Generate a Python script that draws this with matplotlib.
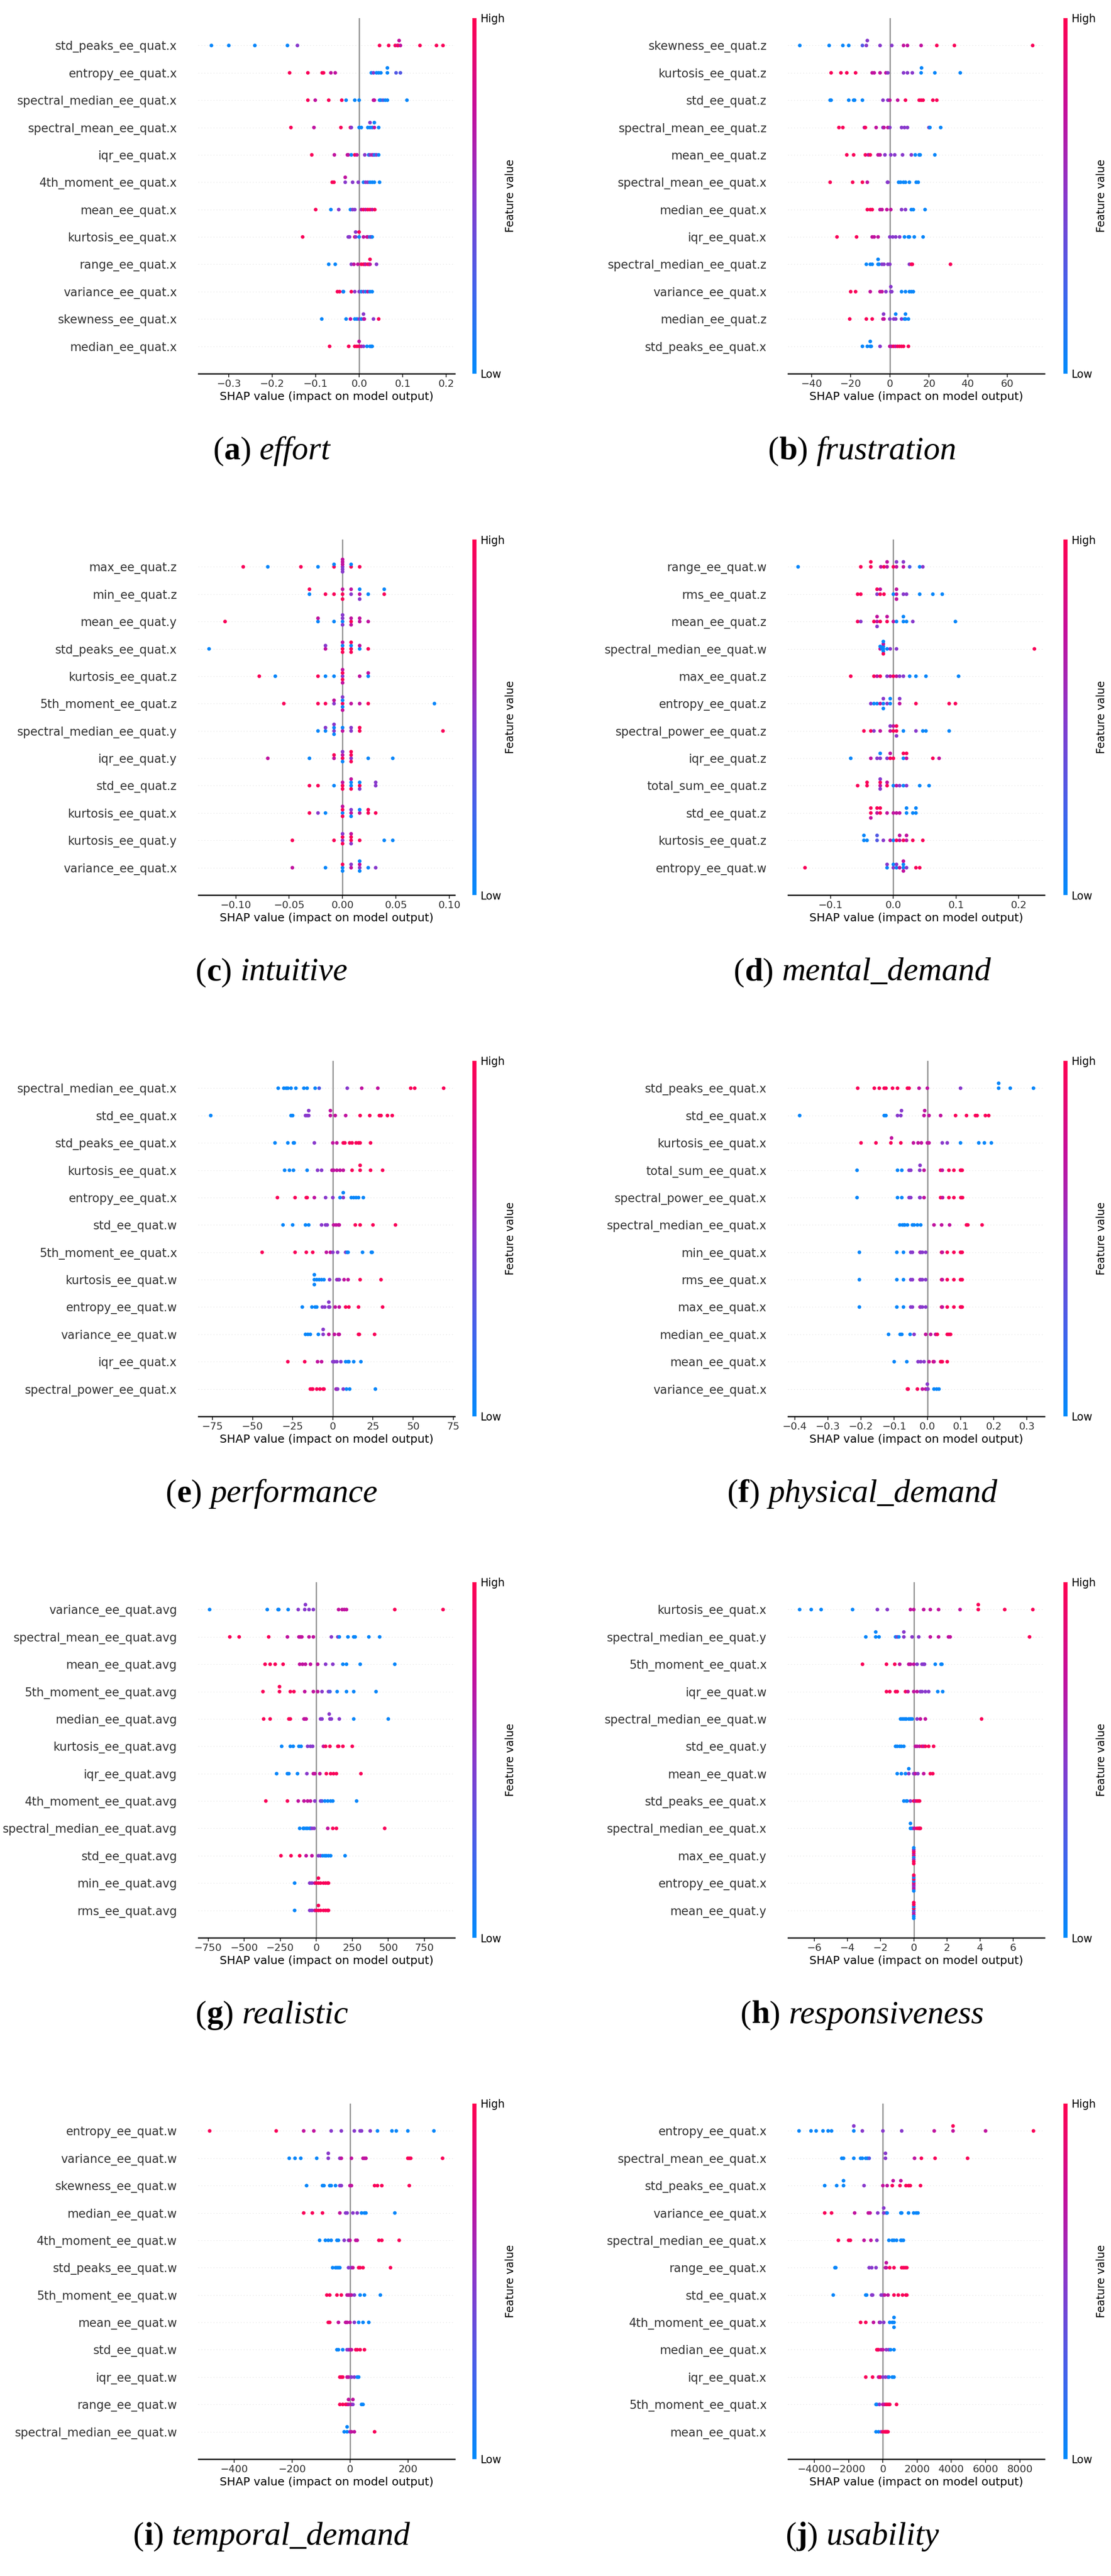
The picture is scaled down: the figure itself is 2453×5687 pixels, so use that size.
import numpy as np
import matplotlib
matplotlib.use("Agg")
import matplotlib.pyplot as plt
from matplotlib.colors import LinearSegmentedColormap, Normalize
from matplotlib.cm import ScalarMappable

# colour codes for feature value: b=low ... r=high
CODE = {"b": 0.03, "q": 0.3, "p": 0.5, "m": 0.72, "r": 0.97}

LETTERS = ["a", "b", "c", "d", "e", "f", "g", "h", "i", "j"]
TARGETS = ["effort", "frustration", "intuitive", "mental_demand", "performance",
           "physical_demand", "realistic", "responsiveness", "temporal_demand", "usability"]
XLIMS = [(-0.37, 0.22), (-52, 79), (-0.135, 0.105), (-0.168, 0.241), (-83.7, 75.9),
         (-0.42, 0.353), (-818, 961), (-7.6, 7.9), (-524, 362), (-5540, 9440)]
XTICKS = [[-0.3, -0.2, -0.1, 0.0, 0.1, 0.2],
          [-40, -20, 0, 20, 40, 60],
          [-0.10, -0.05, 0.0, 0.05, 0.10],
          [-0.1, 0.0, 0.1, 0.2],
          [-75, -50, -25, 0, 25, 50, 75],
          [-0.4, -0.3, -0.2, -0.1, 0.0, 0.1, 0.2, 0.3],
          [-750, -500, -250, 0, 250, 500, 750],
          [-6, -4, -2, 0, 2, 4, 6],
          [-400, -200, 0, 200],
          [-4000, -2000, 0, 2000, 4000, 6000, 8000]]

# (a) effort
FEAT_A = ["std_peaks_ee_quat.x", "entropy_ee_quat.x", "spectral_median_ee_quat.x",
          "spectral_mean_ee_quat.x", "iqr_ee_quat.x", "4th_moment_ee_quat.x", "mean_ee_quat.x",
          "kurtosis_ee_quat.x", "range_ee_quat.x", "variance_ee_quat.x", "skewness_ee_quat.x",
          "median_ee_quat.x"]
SHAP_A = [[-0.34, -0.30, -0.24, -0.165, -0.142, 0.047, 0.068, 0.083, 0.088, 0.09, 0.092, 0.095, 0.14, 0.178, 0.193],
          [-0.16, -0.118, -0.085, -0.082, -0.065, -0.055, 0.028, 0.033, 0.04, 0.045, 0.05, 0.065, 0.065, 0.085, 0.095],
          [-0.118, -0.101, -0.07, -0.04, -0.03, -0.01, 0.0, 0.033, 0.035, 0.047, 0.05, 0.055, 0.06, 0.065, 0.11],
          [-0.157, -0.104, -0.042, -0.02, -0.018, 0.0, 0.005, 0.02, 0.025, 0.025, 0.03, 0.035, 0.035, 0.045],
          [-0.109, -0.057, -0.027, -0.025, -0.018, -0.01, -0.005, 0.013, 0.022, 0.025, 0.03, 0.033, 0.036, 0.04, 0.045],
          [-0.062, -0.058, -0.032, -0.032, -0.015, -0.002, 0.01, 0.015, 0.02, 0.025, 0.03, 0.035, 0.047],
          [-0.1, -0.065, -0.047, -0.02, -0.015, -0.01, 0.005, 0.01, 0.015, 0.02, 0.025, 0.03, 0.036],
          [-0.13, -0.025, -0.022, -0.01, -0.008, -0.008, 0.0, 0.0, 0.01, 0.018, 0.02, 0.025, 0.028, 0.03],
          [-0.07, -0.055, -0.018, -0.012, -0.003, 0.005, 0.01, 0.013, 0.015, 0.02, 0.023, 0.025, 0.025, 0.04],
          [-0.05, -0.045, -0.037, -0.036, -0.018, -0.01, 0.0, 0.005, 0.01, 0.015, 0.02, 0.025, 0.03],
          [-0.086, -0.03, -0.02, -0.01, -0.005, 0.0, 0.005, 0.01, 0.01, 0.012, 0.033, 0.045],
          [-0.068, -0.024, -0.01, -0.005, 0.0, 0.0, 0.005, 0.01, 0.018, 0.025, 0.028, 0.03]]
FVAL_A = ["bbbbprrrmrmmrrr", "rrrrmmbpbbbbbqq", "rmrrbbbmmbbqbbb", "rmrrpbbbbpbmbb",
          "rmmmbrmpbpmpbpb", "rrpmppbppbbbb", "rbpbppmrmrrmr", "rpprppbrmmmbmb",
          "bbpmmrrrmrrmrp", "rrpbrppbpbmbb", "bbmbbpbppmpr", "rrrrrmmpbbbb"]

# (b) frustration
FEAT_B = ["skewness_ee_quat.z", "kurtosis_ee_quat.z", "std_ee_quat.z", "spectral_mean_ee_quat.z",
          "mean_ee_quat.z", "spectral_mean_ee_quat.x", "median_ee_quat.x", "iqr_ee_quat.x",
          "spectral_median_ee_quat.z", "variance_ee_quat.x", "median_ee_quat.z", "std_peaks_ee_quat.x"]
SHAP_B = [[-46, -31, -24, -21, -14, -12, -11.5, -5, 1, 7, 9, 16, 24, 33, 73],
          [-30, -25, -22, -17.5, -9, -8, -5, -2, -1, 7, 9, 11.5, 16, 16.2, 23, 36],
          [-30.5, -30, -21, -18.5, -18, -14, -3.5, -1, 0, 4, 8, 15, 16, 17, 22, 24],
          [-26, -24, -13, -12.5, -7, -3.5, -3, -1, 0, 6, 7.5, 9, 20, 20.5, 26],
          [-22, -18.5, -12.5, -11, -10, -6, -5, -2.5, 0.5, 2.5, 6.5, 11, 13, 15, 15.5, 23],
          [-30.5, -19, -14, -11.5, -1, -1.2, 4.5, 5.5, 7, 8, 10, 13.5, 14.5],
          [-11.5, -10, -9, -5, -4, -1.5, 0.5, 6, 8, 11, 12, 18],
          [-27, -17, -9, -8, -6, 0, 1.5, 3, 5, 7.5, 10, 12.5, 17, 9.5],
          [-12, -10, -9, -6, -5.5, -4, -6, -3, -1, 0, 10, 11, 11.5, 31],
          [-20, -17.5, -10, -5, -4, -2, 0.5, 0.5, 1, 6, 8, 10, 11, 12],
          [-20.5, -12, -9, -3.5, -3, -3.2, 0, 2, 3, 3, 6, 7.5, 8, 8, 9.5],
          [-14, -11.5, -10, -9.5, -10, -5, 0, 1, 2, 3, 4, 5, 6, 7, 9.5]]
FVAL_B = ["bbbbqppppmmmrrr", "rrrrmmmmppppbbbb", "bbbbbbppmmrrrrrr", "rrmrmpmmpppppbbb",
          "rrrmrmmpppppbbbbb", "rrrmppbbbbbbb", "rrrmmmmppbbb", "rrmmmppppbbbbb",
          "bbbbbpbpppprrrr", "rrmmmppppbbbbb", "rrrmmppppbpbbbb", "bbbbbpmmrmrrrrr"]

# (c) intuitive
FEAT_C = ["max_ee_quat.z", "min_ee_quat.z", "mean_ee_quat.y", "std_peaks_ee_quat.x",
          "kurtosis_ee_quat.z", "5th_moment_ee_quat.z", "spectral_median_ee_quat.y", "iqr_ee_quat.y",
          "std_ee_quat.z", "kurtosis_ee_quat.x", "kurtosis_ee_quat.y", "variance_ee_quat.x"]
SHAP_C = [[-0.093, -0.07, -0.039, -0.023, -0.008, -0.008, 0, 0, 0, 0, 0, 0, 0.008, 0.008, 0.016],
          [-0.031, -0.031, -0.016, -0.008, 0, 0, 0, 0.008, 0.008, 0.016, 0.016, 0.016, 0.024, 0.039, 0.039],
          [-0.11, -0.023, -0.023, -0.008, 0, 0, 0, 0, 0.008, 0.008, 0.008, 0.016, 0.016, 0.024],
          [-0.125, -0.016, -0.016, 0, 0, 0, 0, 0.008, 0.008, 0.008, 0.008, 0.016, 0.016, 0.024],
          [-0.078, -0.063, -0.023, -0.016, -0.008, 0, 0, 0, 0, 0, 0.016, 0.024, 0.024],
          [-0.055, -0.023, -0.016, -0.008, -0.008, 0, 0, 0, 0, 0, 0.008, 0.016, 0.024, 0.086],
          [-0.023, -0.016, -0.016, -0.008, -0.008, -0.008, -0.008, 0, 0, 0.008, 0.008, 0.016, 0.016, 0.094],
          [-0.07, -0.031, -0.008, -0.008, 0, 0, 0, 0, 0.008, 0.008, 0.008, 0.008, 0.024, 0.047],
          [-0.031, -0.023, -0.008, 0, 0, 0, 0.008, 0.008, 0.008, 0.008, 0.016, 0.016, 0.016, 0.031, 0.031],
          [-0.031, -0.023, -0.016, 0, 0, 0, 0, 0.008, 0.008, 0.008, 0.016, 0.016, 0.024, 0.024, 0.031],
          [-0.047, -0.008, 0, 0, 0, 0, 0.008, 0.008, 0.008, 0.008, 0.016, 0.039, 0.047],
          [-0.047, -0.016, 0, 0, 0, 0.008, 0.008, 0.016, 0.016, 0.016, 0.016, 0.024, 0.031]]
FVAL_C = ["rbrbrbpmpmpmrbr", "brrrrmrpmmbpbrb", "rbmbbppprmmmmm", "bmprbrmrbrrbmr",
          "rbrbbprrmmmbm", "rrrpmrbbpmmmrb", "bbppbbpmbpprrr", "mbmrrmbpprrrbb",
          "rrbrmrbbrmrbppp", "rpbbrrmmpbmbrrr", "rrprrprrpmrbb", "mbbrbmppmbbbp"]

# (d) mental_demand
FEAT_D = ["range_ee_quat.w", "rms_ee_quat.z", "mean_ee_quat.z", "spectral_median_ee_quat.w",
          "max_ee_quat.z", "entropy_ee_quat.z", "spectral_power_ee_quat.z", "iqr_ee_quat.z",
          "total_sum_ee_quat.z", "std_ee_quat.z", "kurtosis_ee_quat.z", "entropy_ee_quat.w"]
SHAP_D = [[-0.152, -0.052, -0.036, -0.036, -0.02, -0.015, -0.01, -0.01, 0, 0.005, 0.005, 0.016, 0.016, 0.026, 0.042, 0.047],
          [-0.057, -0.052, -0.026, -0.026, -0.021, -0.021, -0.015, 0, 0.005, 0.005, 0.005, 0.016, 0.021, 0.042, 0.063, 0.078],
          [-0.057, -0.052, -0.031, -0.026, -0.026, -0.026, -0.021, -0.01, -0.01, 0, 0.005, 0.016, 0.016, 0.021, 0.031, 0.099],
          [-0.021, -0.021, -0.018, -0.016, -0.016, -0.016, -0.016, -0.016, -0.016, -0.01, -0.005, 0.005, 0.225],
          [-0.068, -0.031, -0.026, -0.021, -0.01, -0.005, 0, 0.005, 0.01, 0.016, 0.026, 0.036, 0.052, 0.104],
          [-0.036, -0.031, -0.026, -0.021, -0.016, -0.016, -0.016, -0.01, -0.005, -0.005, 0.01, 0.01, 0.036, 0.089, 0.099],
          [-0.047, -0.036, -0.031, -0.021, -0.005, -0.005, 0, 0, 0.005, 0.005, 0.005, 0.016, 0.036, 0.047, 0.052, 0.089],
          [-0.068, -0.036, -0.026, -0.021, -0.021, -0.01, -0.005, 0, -0.005, 0.016, 0.016, 0.021, 0.021, 0.063, 0.073],
          [-0.057, -0.042, -0.042, -0.021, -0.021, -0.021, -0.021, -0.01, -0.01, 0, 0.005, 0.01, 0.016, 0.021, 0.042, 0.057],
          [-0.036, -0.036, -0.036, -0.026, -0.021, -0.026, -0.021, -0.01, 0, 0.005, 0.01, 0.021, 0.021, 0.031, 0.036, 0.036],
          [-0.047, -0.047, -0.042, -0.026, -0.026, -0.016, -0.005, 0, 0.005, 0.01, 0.01, 0.016, 0.021, 0.021, 0.031, 0.047],
          [-0.141, -0.01, -0.01, 0, 0, 0.005, 0.005, 0.01, 0.016, 0.016, 0.016, 0.016, 0.021, 0.036, 0.042]]
FVAL_D = ["brrrmrmmrmpmpqbp", "rrprrmrbmmmppbbb", "rprmmprrmmbbbbpb", "mbbbbbmrbbppr",
          "rrmrpmrmppbbbb", "pbbmbpbpbbmprrr", "rrpmmprmrrpbpbbb", "bmppbprrmbrmrrm",
          "rrrmrpprmbmpbpbb", "rrmmrrrmmmmbbbbb", "bbbqqpmbrmmrmmrr", "rbppbbpmbbmmprr"]

# (e) performance
FEAT_E = ["spectral_median_ee_quat.x", "std_ee_quat.x", "std_peaks_ee_quat.x", "kurtosis_ee_quat.x",
          "entropy_ee_quat.x", "std_ee_quat.w", "5th_moment_ee_quat.x", "kurtosis_ee_quat.w",
          "entropy_ee_quat.w", "variance_ee_quat.w", "iqr_ee_quat.x", "spectral_power_ee_quat.x"]
SHAP_E = [[-34, -30.5, -29, -28, -26, -23, -18, -16, -11, -8.5, 9, 18, 28, 48.5, 51, 69],
          [-76, -26, -25, -17, -16, -15, -15, -1.5, -1.5, 1.5, 8, 17, 23, 29, 30, 34, 37],
          [-36, -28, -24.5, -24, -11.5, 0, 2.5, 6.5, 7.5, 10.5, 12, 14.5, 16, 17, 23.5],
          [-30, -27, -24.5, -16, -9.5, -7, -0.5, 0.5, 2.5, 4.5, 6.5, 12, 17, 17, 23.5, 31],
          [-34.5, -23.5, -16.5, -16, -11.5, -4.5, 0, 4.5, 6.5, 6.5, 11.5, 13, 14.5, 16, 19],
          [-31, -25, -17, -15, -7, -4.5, -3.5, 0.5, 2, 3.5, 4, 14, 17, 25, 39],
          [-44, -23.5, -16.5, -12.5, -4, -1.5, 0, 3, 8, 9, 9.5, 18.5, 24, 24.5],
          [-11.5, -11.5, -11.5, -10, -8.5, -7, -5.5, -2, 2.5, 3.5, 4, 7, 9.5, 17, 30],
          [-19, -13, -11, -10, -6.5, -5, -2.5, -2.5, -2, 1.5, 4, 8, 10, 16, 31],
          [-17, -15.5, -14, -9, -6, -6, -2.5, 1, 3.5, 4, 16, 16.5, 26],
          [-28, -17.5, -9.5, -7, 0, 1, 2.5, 5, 8, 9.5, 10, 13, 17.5],
          [-14, -13, -12.5, -10, -8, -6, -5.5, 2, 2.5, 3, 6.5, 8.5, 10.5, 26.5]]
FVAL_E = ["bbbbbbbbbqpmmrrr", "bbbppppmmmmrrrrrr", "bbbbpmmrrrrrrrr", "bbbbppmmmmmrrrrr",
          "rrrrmppbpbbbbbb", "bbbbpppmmmmrrrr", "rrrrmmpppbbbbb", "bbbbbbbppmpmmrr",
          "bbbbpppppmmrrrr", "bbbbppmmmmrrr", "rrmmppppbbbbb", "rrrrrrrpmppbbb"]

# (f) physical_demand
FEAT_F = ["std_peaks_ee_quat.x", "std_ee_quat.x", "kurtosis_ee_quat.x", "total_sum_ee_quat.x",
          "spectral_power_ee_quat.x", "spectral_median_ee_quat.x", "min_ee_quat.x", "rms_ee_quat.x",
          "max_ee_quat.x", "median_ee_quat.x", "mean_ee_quat.x", "variance_ee_quat.x"]
SHAP_F = [[-0.21, -0.16, -0.145, -0.13, -0.125, -0.105, -0.09, -0.06, -0.055, -0.025, 0, 0.1, 0.215, 0.215, 0.25, 0.32],
          [-0.385, -0.13, -0.125, -0.09, -0.08, -0.078, -0.01, -0.008, 0.005, 0.04, 0.085, 0.118, 0.145, 0.15, 0.175, 0.185],
          [-0.2, -0.155, -0.11, -0.108, -0.08, -0.042, -0.028, -0.018, 0, 0.005, 0.045, 0.06, 0.1, 0.155, 0.172, 0.193],
          [-0.212, -0.09, -0.077, -0.055, -0.05, -0.023, -0.022, -0.01, 0.04, 0.045, 0.065, 0.08, 0.1, 0.102, 0.105],
          [-0.212, -0.09, -0.077, -0.055, -0.05, -0.023, -0.022, -0.01, 0.04, 0.046, 0.065, 0.08, 0.101, 0.103, 0.106],
          [-0.083, -0.075, -0.07, -0.068, -0.06, -0.045, -0.04, -0.03, -0.02, 0.02, 0.043, 0.067, 0.118, 0.122, 0.165],
          [-0.205, -0.092, -0.072, -0.05, -0.045, -0.022, -0.02, -0.015, -0.005, 0.043, 0.045, 0.06, 0.08, 0.1, 0.102, 0.105],
          [-0.205, -0.092, -0.072, -0.05, -0.045, -0.022, -0.02, -0.015, -0.005, 0.043, 0.045, 0.06, 0.08, 0.1, 0.102, 0.105],
          [-0.205, -0.092, -0.072, -0.05, -0.045, -0.022, -0.02, -0.015, -0.005, 0.043, 0.045, 0.06, 0.08, 0.1, 0.102, 0.105],
          [-0.117, -0.082, -0.077, -0.052, -0.04, -0.005, 0.01, 0.025, 0.03, 0.06, 0.065, 0.07],
          [-0.1, -0.062, -0.028, -0.02, -0.01, 0.005, 0.018, 0.02, 0.04, 0.042, 0.045, 0.06],
          [-0.06, -0.058, -0.03, -0.015, -0.005, 0, 0, 0.002, 0.02, 0.028, 0.035]]
FVAL_F = ["rrrrrrrrrmmpbbbb", "bbbpppmmmmrrrrrr", "rrrmrmmmmmppbbbb", "bbbppppmrmrrrrr",
          "bbbppppmrmrrrrr", "bbbbbbbbbmmmrrr", "bbbppmppprmrrrrr", "bbbppmppprmrrrrr",
          "bbbppmppprmrrrrr", "bbbbpmmmrrrr", "bbpppmrmrrrr", "rrrmmpppbbb"]

# (g) realistic
FEAT_G = ["variance_ee_quat.avg", "spectral_mean_ee_quat.avg", "mean_ee_quat.avg",
          "5th_moment_ee_quat.avg", "median_ee_quat.avg", "kurtosis_ee_quat.avg", "iqr_ee_quat.avg",
          "4th_moment_ee_quat.avg", "spectral_median_ee_quat.avg", "std_ee_quat.avg",
          "min_ee_quat.avg", "rms_ee_quat.avg"]
SHAP_G = [[-740, -340, -265, -260, -195, -125, -80, -75, -50, -20, 155, 180, 195, 210, 545, 880],
          [-600, -535, -330, -200, -120, -110, -100, -50, -20, 105, 150, 160, 220, 260, 270, 365, 440],
          [-355, -320, -285, -230, -115, -95, -75, -40, 10, 65, 115, 185, 210, 305, 545],
          [-370, -255, -255, -180, -155, -80, -20, 10, 40, 85, 95, 145, 210, 260, 415],
          [-365, -320, -190, -180, -85, -80, -70, 30, 40, 95, 90, 105, 160, 260, 500],
          [-240, -180, -160, -120, -105, -60, -40, -25, 50, 65, 95, 150, 155, 185, 250],
          [-275, -200, -190, -130, -65, -20, -10, 25, 70, 100, 120, 140, 310],
          [-350, -200, -125, -85, -60, -40, -10, 30, 40, 60, 80, 100, 115, 280],
          [-115, -90, -85, -70, -60, -45, -40, -30, -15, 80, 115, 140, 475],
          [-245, -175, -115, -70, -30, 15, 30, 45, 60, 70, 85, 100, 200],
          [-150, -45, -30, -10, 0, 15, 30, 50, 65, 80, 85, 15],
          [-150, -45, -30, -10, 0, 15, 30, 50, 65, 80, 85, 15]]
FVAL_G = ["bbbbbpppppmmmmrr", "rrrmmmmmmppbbbbbb", "rrrrmmmmmppbbbb", "rrrrrmmmppqbbbb",
          "rrrrmmmppppppbb", "bbbbbpppmrrrrrr", "bbbbpmmmrrrrr", "rrmmmmppqbbbbb",
          "bbbbbbbppmrrr", "rrrmmppbbbbbb", "bppmrrrrrrrr", "bppmrrrrrrrr"]

# (h) responsiveness
FEAT_H = ["kurtosis_ee_quat.x", "spectral_median_ee_quat.y", "5th_moment_ee_quat.x", "iqr_ee_quat.w",
          "spectral_median_ee_quat.w", "std_ee_quat.y", "mean_ee_quat.w", "std_peaks_ee_quat.x",
          "spectral_median_ee_quat.x", "max_ee_quat.y", "entropy_ee_quat.x", "mean_ee_quat.y"]
SHAP_H = [[-6.9, -6.2, -5.6, -3.7, -2.2, -1.6, -0.2, 0, 0.6, 1, 1.5, 2.8, 3.9, 3.9, 5.5, 7.2],
          [-2.9, -2.3, -2.3, -2.1, -1.1, -1, -0.9, -0.6, -0.6, -0.1, 0.3, 1, 1.5, 2.1, 2.2, 7],
          [-3.1, -1.65, -1.15, -0.85, -0.3, -0.2, 0, 0.2, 0.5, 0.6, 0.65, 1.3, 1.65, 1.7],
          [-1.65, -1.45, -1.1, -1, -0.5, -0.35, 0, 0.2, 0.4, 0.5, 0.7, 0.9, 1.45, 1.75],
          [-0.8, -0.7, -0.6, -0.5, -0.45, -0.3, -0.2, -0.1, 0.2, 0.4, 0.7, 4.1],
          [-1.1, -1.0, -0.85, -0.75, -0.6, 0.1, 0.2, 0.35, 0.5, 0.6, 0.7, 0.9, 1.2],
          [-1, -0.75, -0.5, -0.3, -0.3, 0, 0.1, 0.25, 0.6, 1.0, 1.15],
          [-0.6, -0.45, -0.4, -0.2, 0, 0.1, 0.2, 0.3, 0.35],
          [-0.2, -0.2, -0.1, 0, 0.05, 0.2, 0.3, 0.35, 0.4],
          [0, 0, 0, 0, 0, 0, 0, 0, 0],
          [0, 0, 0, 0, 0, 0, 0, 0, 0],
          [0, 0, 0, 0, 0, 0, 0, 0, 0]]
FVAL_H = ["bbbbppmmmmmmrrrr", "bbbbbpbppppmmmmr", "rrrmmmmppppbbb", "rrrrrmmmppppbb",
          "bbbbbbbbpmmr", "bbbbbmmmrmrrr", "bbbpbpmpmrr", "bbbprmrrr", "bbbpmrrrr",
          "rmbrpmrbr", "rbmrpbmrb", "brpbmrbrb"]

# (i) temporal_demand
FEAT_I = ["entropy_ee_quat.w", "variance_ee_quat.w", "skewness_ee_quat.w", "median_ee_quat.w",
          "4th_moment_ee_quat.w", "std_peaks_ee_quat.w", "5th_moment_ee_quat.w", "mean_ee_quat.w",
          "std_ee_quat.w", "iqr_ee_quat.w", "range_ee_quat.w", "spectral_median_ee_quat.w"]
SHAP_I = [[-485, -255, -160, -125, -65, -30, 15, 35, 40, 70, 95, 145, 160, 200, 290],
          [-210, -190, -170, -115, -75, -75, -35, -30, 5, 45, 50, 55, 200, 205, 210, 320],
          [-150, -95, -90, -70, -65, -50, -35, -30, 0, 5, 85, 95, 110, 205],
          [-160, -130, -95, -35, -15, -10, 10, 25, 40, 50, 55, 155],
          [-105, -85, -75, -65, -45, -40, -20, -5, 0, 20, 25, 100, 110, 170],
          [-60, -50, -45, -40, -35, -5, 5, 10, 30, 35, 45, 140],
          [-80, -70, -45, -30, -10, -5, 0, 5, 15, 35, 50, 105],
          [-75, -70, -40, -15, -10, 0, 15, 30, 45, 65],
          [-45, -40, -25, -10, -5, 0, 5, 20, 25, 35, 50],
          [-35, -30, -25, -10, -5, 5, 15, 25, 30],
          [-35, -25, -15, -10, -5, -5, 5, 10, 40, 45, 10],
          [-20, -10, -10, 0, 5, 15, 85]]
FVAL_I = ["rrmmppppppbbbbb", "bbbbpppmmmmmrrrr", "bbbbbbppmmrrrr", "rrrmppppbbbb",
          "bbbbbbppmmmrrr", "bbbbbppmrrrr", "rrrrmmmmpbbb", "rrmmmmpbbb", "bbbppmmrrrr",
          "rrrmmppbb", "rrrrmmmpbbm", "bbbpmmr"]

# (j) usability
FEAT_J = ["entropy_ee_quat.x", "spectral_mean_ee_quat.x", "std_peaks_ee_quat.x", "variance_ee_quat.x",
          "spectral_median_ee_quat.x", "range_ee_quat.x", "std_ee_quat.x", "4th_moment_ee_quat.x",
          "median_ee_quat.x", "iqr_ee_quat.x", "5th_moment_ee_quat.x", "mean_ee_quat.x"]
SHAP_J = [[-4900, -4200, -3900, -3500, -3200, -3000, -1700, -1700, -1200, 0, 1100, 3000, 4100, 4100, 6000, 8800],
          [-2400, -2300, -1700, -1300, -1200, -1000, -900, -800, 150, 150, 1850, 2250, 3050, 4950],
          [-3400, -2700, -2300, -2300, -1100, 0, 250, 550, 600, 1000, 1050, 1350, 1500, 1600, 2200],
          [-3400, -3000, -1650, -850, -750, -300, 50, 50, 200, 250, 1050, 1100, 1500, 1800, 1950, 2050],
          [-2600, -2000, -1900, -1100, -700, -350, 350, 550, 650, 800, 1050, 1100, 1200],
          [-2800, -2750, -800, -650, -400, 150, 200, 200, 400, 650, 1100, 1200, 1300, 1400],
          [-2900, -1000, -950, -600, -650, -100, 0, 100, 300, 650, 900, 1150, 1400, 1350],
          [-1300, -1000, -550, -200, -150, 50, 400, 550, 650, 650, 650],
          [-350, -300, -250, -100, 0, 200, 350, 450, 650],
          [-1000, -600, -250, -200, -150, 0, 150, 300, 350, 550, 650],
          [-400, -350, -200, 0, 100, 200, 300, 400, 800],
          [-400, -250, -100, 0, 100, 150, 200, 250, 300]]
FVAL_J = ["bbbbbbbppppmmrmrr", "bbbbbbbqppmrrr", "bbbbpmmrmrmrrrr", "rrmmmppppbbbbbbb",
          "rrrmmpbbbbbbb", "bbpppmmmrrrrrr", "bbbppppmmrrrrr", "rrmmppbbbbb",
          "rrrmmppbb", "rrmmrpppbbb", "bbpmmrrrr", "bbprrrrrr"]

FEATS = [FEAT_A, FEAT_B, FEAT_C, FEAT_D, FEAT_E, FEAT_F, FEAT_G, FEAT_H, FEAT_I, FEAT_J]
SHAPS = [SHAP_A, SHAP_B, SHAP_C, SHAP_D, SHAP_E, SHAP_F, SHAP_G, SHAP_H, SHAP_I, SHAP_J]
FVALS = [FVAL_A, FVAL_B, FVAL_C, FVAL_D, FVAL_E, FVAL_F, FVAL_G, FVAL_H, FVAL_I, FVAL_J]

cmap = LinearSegmentedColormap.from_list("shap_red_blue", [
    (0.0, (0.0, 0.545, 0.988)),
    (0.25, (0.27, 0.38, 0.92)),
    (0.5, (0.53, 0.22, 0.80)),
    (0.75, (0.78, 0.05, 0.60)),
    (1.0, (1.0, 0.0, 0.318))])

W, H = 2453, 5687


def swarm_offsets(vals, row_height=0.4, nbins=100):
    # same stacking idea as shap's beeswarm: points in one bin fan out up/down
    vals = np.asarray(vals, dtype=float)
    span = vals.max() - vals.min()
    quant = np.round(nbins * (vals - vals.min()) / (span + 1e-8))
    inds = np.argsort(quant, kind="stable")
    ys = np.zeros(len(vals))
    layer, last = 0, None
    for ind in inds:
        if quant[ind] != last:
            layer = 0
        ys[ind] = np.ceil(layer / 2) * ((layer % 2) * 2 - 1)
        layer += 1
        last = quant[ind]
    ys *= 0.9 * (row_height / np.max(ys + 1))
    return ys


def colors_of(code, n):
    code = (code + code[-1] * n)[:n]
    return [CODE[c] for c in code]


def caption(fig, k):
    col, row = k % 2, k // 2
    cx = 600 + col * 1304
    cy = 1 - (996 + row * 1151) / H
    r = fig.canvas.get_renderer()
    parts = [("(", "normal", "normal"), (LETTERS[k], "bold", "normal"),
             (") ", "normal", "normal"), (TARGETS[k], "normal", "italic")]
    texts = []
    for s, wgt, sty in parts:
        texts.append(fig.text(0, cy, s, fontsize=52, family="Liberation Serif",
                              fontweight=wgt, style=sty, va="center"))
    widths = [t.get_window_extent(r).width for t in texts]
    x = cx - sum(widths) / 2
    for t, w in zip(texts, widths):
        t.set_x(x / W)
        x += w


def main():
    fig = plt.figure(figsize=(W / 100, H / 100), dpi=100)
    for k in range(10):
        col, row = k % 2, k // 2
        x0 = 438 + col * 1302
        top = 40 + row * 1151
        ax = fig.add_axes([x0 / W, 1 - (top + 785) / H, 566 / W, 785 / H])
        feats = FEATS[k]
        n = len(feats)
        for i, (vals, code) in enumerate(zip(SHAPS[k], FVALS[k])):
            y = n - 1 - i
            ax.axhline(y, color="#cccccc", lw=0.8, dashes=(1, 5), zorder=-1)
            ys = swarm_offsets(vals)
            ax.scatter(vals, y + ys, c=colors_of(code, len(vals)), cmap=cmap, vmin=0, vmax=1,
                       s=34, linewidths=0, zorder=3)
        ax.axvline(0, color="#999999", lw=2.2, zorder=2)
        ax.set_xlim(*XLIMS[k])
        ax.set_ylim(-1, n)
        ax.set_xticks(XTICKS[k])
        ax.set_yticks(range(n))
        ax.set_yticklabels(feats[::-1], fontsize=18.5, color="#333333")
        ax.tick_params(axis="y", length=0, pad=34)
        ax.tick_params(axis="x", labelsize=16, color="#333333", labelcolor="#333333",
                       width=1.5, length=6)
        for s in ["left", "right", "top"]:
            ax.spines[s].set_visible(False)
        ax.spines["bottom"].set_linewidth(2)
        ax.set_xlabel("SHAP value (impact on model output)", fontsize=18)

        cax = fig.add_axes([(1043 + col * 1305) / W, 1 - (top + 785) / H, 9 / W, 785 / H])
        cb = fig.colorbar(ScalarMappable(norm=Normalize(0, 1), cmap=cmap), cax=cax, ticks=[0, 1])
        cb.outline.set_visible(False)
        cb.set_ticklabels(["Low", "High"])
        cax.tick_params(length=0, labelsize=17, pad=6)
        cb.set_label("Feature value", size=17, labelpad=0)

        caption(fig, k)

    fig.savefig("out.png", dpi=100, facecolor="white")


if __name__ == "__main__":
    main()
